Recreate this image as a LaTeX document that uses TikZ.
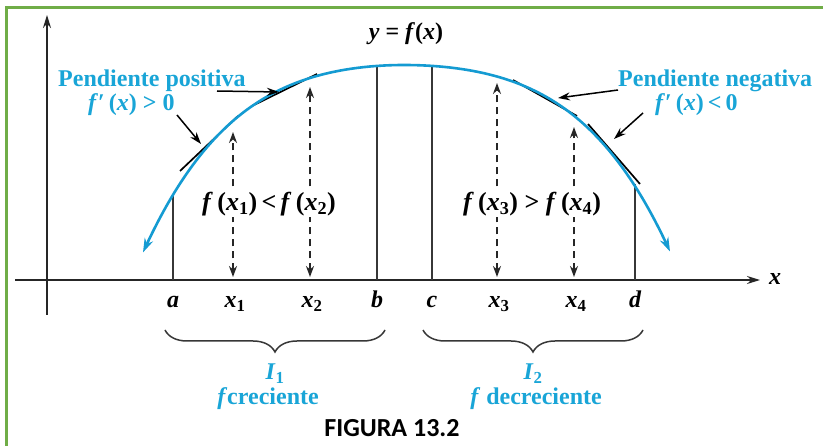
\documentclass[tikz,border=0pt]{standalone}
\usepackage{fontspec}
\setmainfont{Liberation Serif}
\newfontfamily\figfont{Carlito}
\usetikzlibrary{arrows.meta,decorations.pathreplacing}
\definecolor{curveblue}{RGB}{20,155,210}
\definecolor{labelblue}{RGB}{25,165,215}
\definecolor{framegreen}{RGB}{112,173,71}
\definecolor{linegray}{RGB}{55,55,55}
\begin{document}
\begin{tikzpicture}[x=1pt,y=-1pt,
  bl/.style={text=labelblue,font=\fontsize{24}{28}\selectfont\bfseries,inner sep=0pt},
  mathlab/.style={font=\fontsize{26}{30}\selectfont\bfseries,inner sep=1pt,fill=white},
  axlab/.style={font=\fontsize{24}{28}\selectfont\bfseries\itshape,inner sep=0pt,anchor=base},
  vline/.style={linegray,line width=1.6pt},
  tang/.style={black,line width=1.7pt},
  axis/.style={black!85,line width=1.8pt},
  pointer/.style={black,line width=1.5pt,-{Stealth[length=12pt,width=8pt]}},
  darrow/.style={black!85,line width=1.8pt,dash pattern=on 7pt off 5pt,{Stealth[length=11pt,width=8pt]}-{Stealth[length=11pt,width=8pt]}},
  brc/.style={linegray,line width=1.5pt,decorate,decoration={brace,mirror,amplitude=22pt}},
]
\useasboundingbox (0,0) rectangle (823,446);
\fill[white] (0,0) rectangle (823,446);
% frame
\draw[framegreen,line width=3pt] (5,8) -- (823,8);
\draw[framegreen,line width=3pt] (6,8) -- (6,446);

% axes
\coordinate (yB) at (47,315);
\coordinate (yT) at (47,15);
\coordinate (xL) at (15,280);
\coordinate (xR) at (760,280);
\draw[axis,-{Stealth[length=13pt,width=8pt]}] (yB) -- (yT);
\draw[axis,-{Stealth[length=13pt,width=8pt]}] (xL) -- (xR);

% vertical lines
\coordinate (aB) at (173,280); \coordinate (aT) at (173,195);
\coordinate (bB) at (377,280); \coordinate (bT) at (377,66);
\coordinate (cB) at (432,280); \coordinate (cT) at (432,66);
\coordinate (dB) at (635,280); \coordinate (dT) at (635,184);
\draw[vline] (aB) -- (aT);
\draw[vline] (bB) -- (bT);
\draw[vline] (cB) -- (cT);
\draw[vline] (dB) -- (dT);

% tangent segments
\coordinate (t1a) at (180,171); \coordinate (t1b) at (238,116);
\coordinate (t2a) at (252,106); \coordinate (t2b) at (317,74);
\coordinate (t3a) at (513,80);  \coordinate (t3b) at (577,116);
\coordinate (t4a) at (588,124); \coordinate (t4b) at (640,184);
\draw[tang] (t1a) -- (t1b);
\draw[tang] (t2a) -- (t2b);
\draw[tang] (t3a) -- (t3b);
\draw[tang] (t4a) -- (t4b);

% curve
\draw[curveblue,line width=2.6pt,{Stealth[length=14pt,width=9pt]}-{Stealth[length=14pt,width=9pt]}]
  plot[domain=143:670,samples=140,smooth]
  (\x,{65 + (\x<404 ? 12.8*((404-\x)/100)^2 + 2.16*((404-\x)/100)^4 : 11.5*((\x-404)/100)^2 + 2.1*((\x-404)/100)^4)});

% dashed arrows
\coordinate (x1T) at (233,132); \coordinate (x1B) at (233,277);
\coordinate (x2T) at (310,87);  \coordinate (x2B) at (310,277);
\coordinate (x3T) at (497,83);  \coordinate (x3B) at (497,277);
\coordinate (x4T) at (574,127); \coordinate (x4B) at (574,277);
\draw[darrow] (x1B) -- (x1T);
\draw[darrow] (x2B) -- (x2T);
\draw[darrow] (x3B) -- (x3T);
\draw[darrow] (x4B) -- (x4T);

\node[mathlab] (ineq1) at (269,204) {\textit{f}\,(\textit{x}\textsubscript{1})\,<\,\textit{f}\,(\textit{x}\textsubscript{2})};
\node[mathlab] (ineq2) at (532,204) {\textit{f}\,(\textit{x}\textsubscript{3}) > \textit{f}\,(\textit{x}\textsubscript{4})};

% top label
\node[font=\fontsize{24}{28}\selectfont\bfseries,inner sep=0pt,anchor=base] (yf) at (406,40) {\textit{y} = \textit{f}(\textit{x})};

% blue labels
\node[bl,anchor=base west] (posL) at (58,87) {Pendiente positiva};
\node[bl,anchor=base west] (posD) at (88,111) {\textit{f}′\,(\textit{x}) > 0};
\node[bl,anchor=base west] (negL) at (618,87) {Pendiente negativa};
\node[bl,anchor=base west] (negD) at (655,111) {\textit{f}′\,(\textit{x})\,<\,0};

% pointer arrows
\coordinate (p1s) at (217,91); \coordinate (p1e) at (279,92);
\coordinate (p2s) at (177,115); \coordinate (p2e) at (201,144);
\coordinate (p3s) at (618,90); \coordinate (p3e) at (558,98);
\coordinate (p4s) at (643,113); \coordinate (p4e) at (614,139);
\draw[pointer] (p1s) -- (p1e);
\draw[pointer] (p2s) -- (p2e);
\draw[pointer] (p3s) -- (p3e);
\draw[pointer] (p4s) -- (p4e);

% axis labels
\node[axlab] (la) at (173,308) {a};
\node[axlab] (lx1) at (235,308) {x\textsubscript{\upshape 1}};
\node[axlab] (lx2) at (312,308) {x\textsubscript{\upshape 2}};
\node[axlab] (lb) at (377,308) {b};
\node[axlab] (lc) at (432,308) {c};
\node[axlab] (lx3) at (499,308) {x\textsubscript{\upshape 3}};
\node[axlab] (lx4) at (576,308) {x\textsubscript{\upshape 4}};
\node[axlab] (ld) at (635,308) {d};
\node[axlab] (lx) at (775,285) {x};

% braces
\coordinate (br1a) at (165,330); \coordinate (br1b) at (385,330);
\coordinate (br2a) at (423,330); \coordinate (br2b) at (643,330);
\draw[brc] (br1a) -- (br1b);
\draw[brc] (br2a) -- (br2b);

\node[bl,anchor=base] (I1) at (275,380) {\textit{I}\textsubscript{1}};
\node[bl,anchor=base] (cre) at (268,405) {\textit{f}creciente};
\node[bl,anchor=base] (I2) at (533,380) {\textit{I}\textsubscript{2}};
\node[bl,anchor=base] (dec) at (536,405) {\textit{f} decreciente};

\node[font=\figfont\fontsize{26}{30}\selectfont\bfseries,inner sep=0pt,anchor=base] (fig) at (392,437) {FIGURA 13.2};
\end{tikzpicture}
\end{document}
